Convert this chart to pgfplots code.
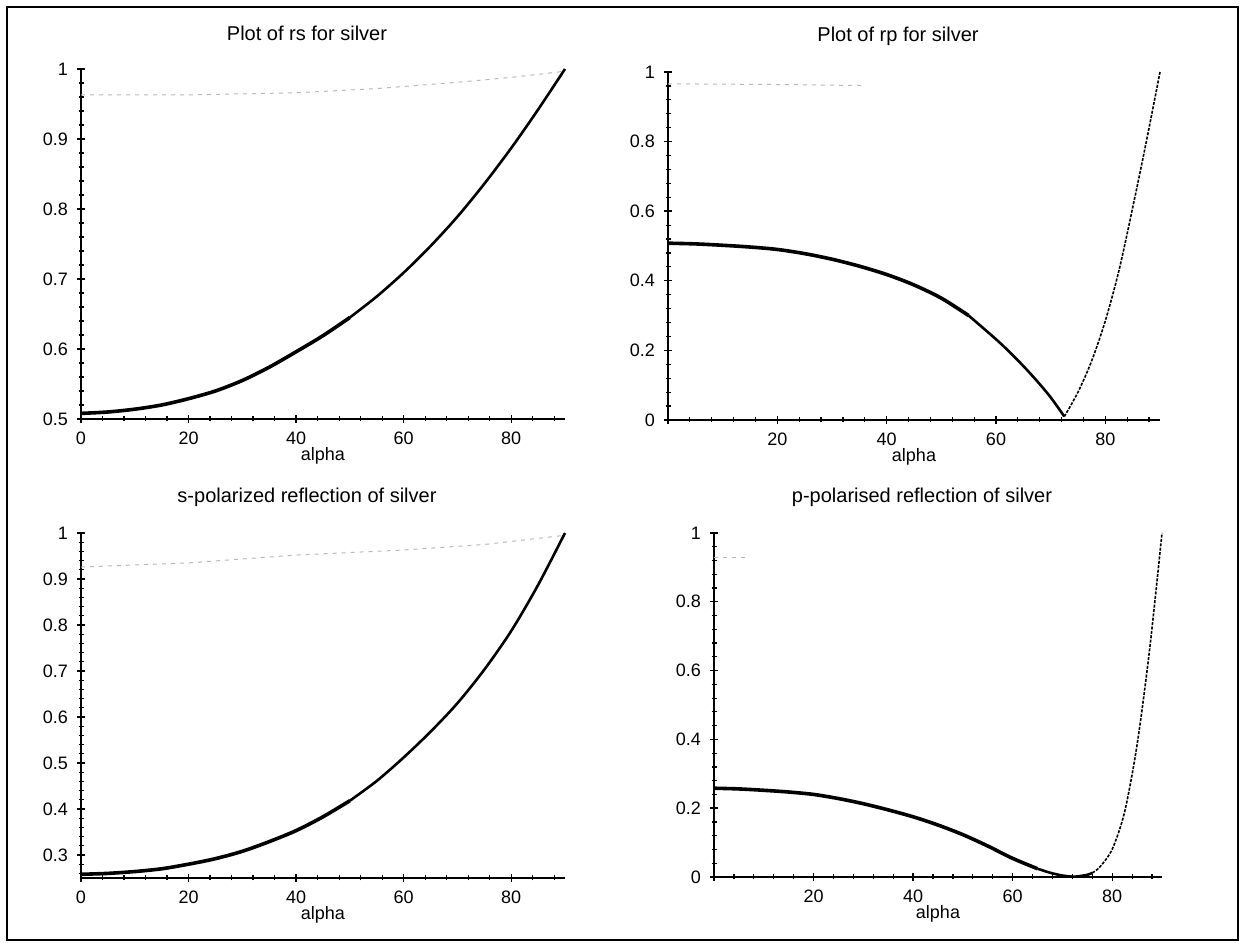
\documentclass[border=0pt]{standalone}
\usepackage{fontspec}
\setmainfont{Liberation Sans}
\usepackage{pgfplots}
\pgfplotsset{compat=1.18}
\pgfplotsset{
  maple/.style={
    scale only axis,
    axis lines=left,
    axis line style={-, line width=0.9pt},
    xmin=0, xmax=90,
    enlargelimits=false,
    clip=false,
    tick align=center,
    major tick length=4pt,
    minor tick length=2.5pt,
    every tick/.style={line width=0.7pt, black},
    minor tick style={line width=0.6pt},
    tick label style={font=\fontsize{9}{10}\selectfont},
    /pgf/number format/assume math mode=true,
    xticklabel style={yshift=-1pt},
    yticklabel style={xshift=-1pt},
    xlabel={alpha},
    xlabel style={font=\fontsize{9}{10}\selectfont, at={(axis description cs:0.5,0)}, anchor=center, yshift=-18.5pt},
    title style={font=\fontsize{10}{11}\selectfont, at={(axis description cs:0.5,1)}, anchor=center, yshift=12pt, xshift=-8pt},
    xtick={0,20,40,60,80},
    minor xtick={0,4,...,88},
  },
  thickc/.style={black, line width=1.8pt, smooth, tension=0.5},
  medc/.style={black, line width=1.3pt, smooth, tension=0.5},
  thinc/.style={black, line width=0.8pt, smooth, tension=0.5, dash pattern=on 1.5pt off 0.7pt},
  ghost/.style={gray!55, line width=0.5pt, dash pattern=on 2pt off 2.5pt},
}
\begin{document}
\begin{tikzpicture}
\useasboundingbox (0,0) rectangle (621.5pt,472.5pt);
\draw[line width=0.8pt] (3.5pt,2.5pt) rectangle (619pt,469pt);

% ---------- top left: rs ----------
\begin{axis}[maple, at={(40.5pt,263pt)}, anchor=south west, width=242pt, height=175pt,
  ymin=0.5, ymax=1,
  ytick={0.5,0.6,0.7,0.8,0.9,1}, yticklabels={0.5,0.6,0.7,0.8,0.9,1},
  minor ytick={0.52,0.54,...,0.99},
  xticklabels={0,20,40,60,80},
  title={Plot of rs for silver}]
\addplot[ghost] coordinates {(0,0.963)(20,0.963)(40,0.966)(55,0.972)(70,0.981)(80,0.988)(88,0.995)(90,0.997)};
\addplot[thickc] coordinates {(0,0.508)(5,0.510)(10,0.514)(15,0.520)(20,0.529)(25,0.540)(30,0.555)(35,0.574)(40,0.596)(45,0.619)(50,0.645)};
\addplot[medc] coordinates {(50,0.645)(55,0.675)(60,0.709)(65,0.747)(70,0.789)(75,0.836)(80,0.887)(85,0.942)(90,1.000)};
\end{axis}

% ---------- top right: rp ----------
\begin{axis}[maple, at={(334pt,262.5pt)}, anchor=south west, width=246pt, height=174pt,
  ymin=0, ymax=1,
  ytick={0,0.2,0.4,0.6,0.8,1}, yticklabels={0,0.2,0.4,0.6,0.8,1},
  minor ytick={0.04,0.08,...,0.97},
  xticklabels={,20,40,60,80},
  title={Plot of rp for silver}]
\addplot[ghost] coordinates {(0,0.966)(20,0.964)(36,0.961)};
\addplot[thickc] coordinates {(0,0.508)(5,0.506)(10,0.502)(15,0.497)(20,0.490)(25,0.478)(30,0.462)(35,0.442)(40,0.418)(45,0.388)(50,0.350)(55,0.300)};
\addplot[medc] coordinates {(55,0.300)(60,0.232)(62.5,0.195)(65,0.155)(67.5,0.112)(70,0.065)(72.5,0.010)};
\addplot[thinc] coordinates {(72.5,0.010)(75,0.080)(77.5,0.170)(80,0.285)(82.5,0.430)(85,0.610)(87.5,0.800)(90,1.000)};
\end{axis}

% ---------- bottom left: Rs ----------
\begin{axis}[maple, at={(40.5pt,33.5pt)}, anchor=south west, width=242pt, height=172.5pt,
  ymin=0.25, ymax=1,
  ytick={0.3,0.4,0.5,0.6,0.7,0.8,0.9,1}, yticklabels={0.3,0.4,0.5,0.6,0.7,0.8,0.9,1},
  minor ytick={0.26,0.28,...,0.99},
  xticklabels={0,20,40,60,80},
  title={s-polarized reflection of silver}]
\addplot[ghost] coordinates {(0,0.926)(20,0.935)(40,0.952)(60,0.963)(75,0.975)(90,0.995)};
\addplot[thickc] coordinates {(0,0.258)(5,0.260)(10,0.264)(15,0.270)(20,0.280)(25,0.292)(30,0.308)(35,0.329)(40,0.353)(45,0.383)(50,0.418)};
\addplot[medc] coordinates {(50,0.418)(55,0.461)(60,0.512)(65,0.568)(70,0.630)(75,0.703)(80,0.787)(85,0.887)(90,1.000)};
\end{axis}

% ---------- bottom right: Rp ----------
\begin{axis}[maple, at={(357pt,34pt)}, anchor=south west, width=224pt, height=172pt,
  ymin=0, ymax=1,
  ytick={0,0.2,0.4,0.6,0.8,1}, yticklabels={0,0.2,0.4,0.6,0.8,1},
  minor ytick={0.04,0.08,...,0.97},
  xticklabels={,20,40,60,80},
  title={p-polarised reflection of silver}]
\addplot[ghost] coordinates {(0,0.930)(7,0.930)};
\addplot[thickc] coordinates {(0,0.258)(5,0.256)(10,0.252)(15,0.247)(20,0.240)(25,0.228)(30,0.213)(35,0.195)(40,0.175)(45,0.151)(50,0.123)(55,0.090)(60,0.054)(65,0.024)};
\addplot[medc] coordinates {(65,0.024)(67.5,0.0125)(70,0.0042)(72.5,0.001)(75,0.0064)(76,0.012)};
\addplot[thinc] coordinates {(76,0.012)(77.5,0.029)(80,0.081)(82.5,0.190)(85,0.385)(87.5,0.660)(90,1.000)};
\end{axis}
\end{tikzpicture}
\end{document}
